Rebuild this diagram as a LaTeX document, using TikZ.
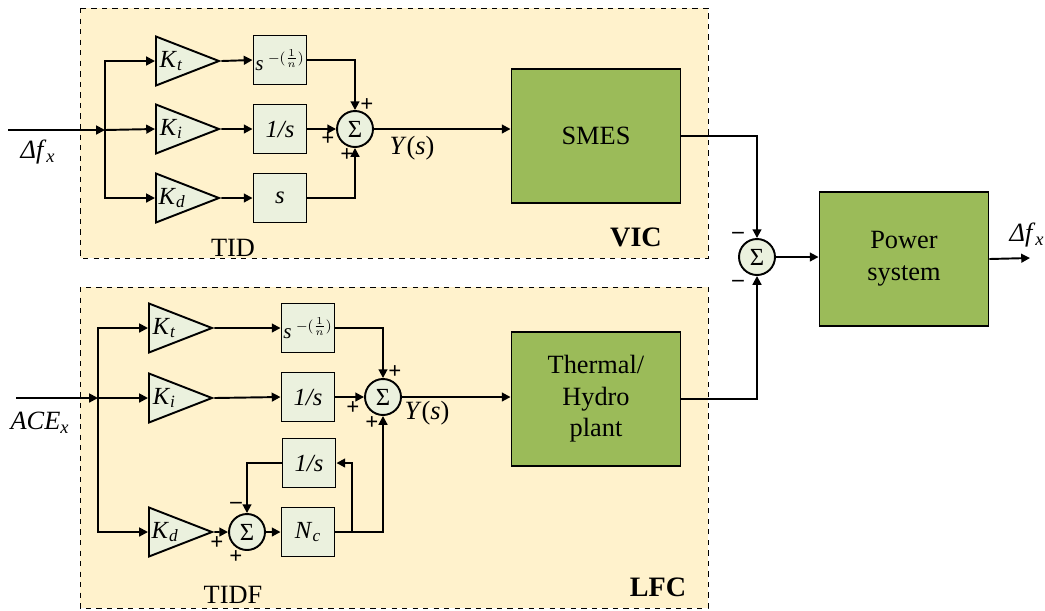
\documentclass[tikz,border=0pt]{standalone}
\usepackage{fontspec}
\setmainfont{Liberation Serif}
\usepackage{amsmath}
\usetikzlibrary{arrows.meta,positioning,shapes.geometric}
\definecolor{panelx}{HTML}{FFF2CC}
\definecolor{blockx}{HTML}{EBF1DE}
\definecolor{plantx}{HTML}{9BBB59}
\newcommand\isub[2]{\textit{#1}\textsubscript{\textit{#2}}}
\newcommand\frpow{\textit{s}\kern2.5pt$^{-(\frac{1}{n})}$}
\tikzset{
  ar/.style={-{Triangle[length=5pt,width=5pt]}},
  gain/.style={draw,fill=blockx,isosceles triangle,isosceles triangle stretches,minimum width=0.98cm,minimum height=1.26cm,inner sep=0pt,anchor=west,font=\fontsize{14}{14}\selectfont},
  blk/.style={draw,fill=blockx,minimum width=1.06cm,minimum height=0.98cm,inner sep=0pt,font=\fontsize{14}{14}\selectfont},
  sumc/.style={draw,fill=blockx,circle,minimum size=0.72cm,inner sep=0pt,font=\fontsize{14}{14}\selectfont},
  plant/.style={draw,fill=plantx,minimum width=3.38cm,minimum height=2.68cm,align=center,font=\fontsize{15}{18}\selectfont},
  panel/.style={draw,dashed,thin,fill=panelx},
  sgn/.style={font=\bfseries\fontsize{13}{13}\selectfont,inner sep=0pt},
  lbl/.style={font=\fontsize{15}{15}\selectfont,inner sep=0pt}
}

\begin{document}
\begin{tikzpicture}[x=0.02cm,y=-0.02cm,line width=1.1pt]
\useasboundingbox (0,0) rectangle (1045,610);
\draw[panel] (80,8) rectangle (708,258);
\draw[panel] (80,287) rectangle (708,608);

% TID controller
\coordinate (in1) at (8,130);
\coordinate (br1) at (105,130);
\node[gain] (kt1) at (155,61) {\isub{K}{t}};
\node[gain] (ki1) at (155,129) {\isub{K}{i}};
\node[gain] (kd1) at (155,198) {\isub{K}{d}};
\node[blk,font=\fontsize{12}{12}\selectfont] (tf1) at (280,60) {\frpow};
\node[blk] (ti1) at (280,129) {\textit{1/s}};
\node[blk] (td1) at (280,198) {\textit{s}};
\node[sumc] (sum1) at (355,129) {Σ};
\node[plant] (smes) at (596,136) {SMES};
\draw[ar] (in1) -- (br1);
\draw[ar] (br1) -- (ki1.west);
\draw[ar] (br1) |- (kt1.west);
\draw[ar] (br1) |- (kd1.west);
\draw[ar] (kt1.east) -- (tf1.west);
\draw[ar] (ki1.east) -- (ti1.west);
\draw[ar] (kd1.east) -- (td1.west);
\draw[ar] (tf1.east) -| (sum1.north);
\draw[ar] (ti1.east) -- (sum1.west);
\draw[ar] (td1.east) -| (sum1.south);
\draw[ar] (sum1.east) -- (sum1.east -| smes.west);
\node[sgn] (s1a) at (367,105) {+};
\node[sgn] (s1b) at (328,139) {+};
\node[sgn] (s1c) at (347,155) {+};
\node[lbl] (y1) at (412,148) {\textit{Y}(\textit{s})};
\node[lbl] (dfin) at (38,152) {\isub{Δf}{x}};
\node[lbl] (tid) at (233,248) {TID};
\node[lbl,font=\bfseries\fontsize{16}{16}\selectfont] (vic) at (636,237) {VIC};

% TIDF controller
\coordinate (in2) at (16,398);
\coordinate (br2) at (98,398);
\node[gain] (kt2) at (148,328) {\isub{K}{t}};
\node[gain] (ki2) at (148,398) {\isub{K}{i}};
\node[gain] (kd2) at (148,532) {\isub{K}{d}};
\node[blk,font=\fontsize{12}{12}\selectfont] (tf2) at (308,328) {\frpow};
\node[blk] (ti2) at (308,397) {\textit{1/s}};
\node[blk] (fb2) at (309,463) {\textit{1/s}};
\node[blk] (nc2) at (308,532) {\isub{N}{c}};
\node[sumc] (sum2) at (247,532) {Σ};
\node[sumc] (sum3) at (383,397) {Σ};
\node[plant] (plant) at (596,399) {Thermal/\\Hydro\\plant};
\coordinate (tap) at (352,532);
\draw[ar] (in2) -- (br2);
\draw[ar] (br2) -- (ki2.west);
\draw[ar] (br2) |- (kt2.west);
\draw[ar] (br2) |- (kd2.west);
\draw[ar] (kt2.east) -- (tf2.west);
\draw[ar] (ki2.east) -- (ti2.west);
\draw[ar] (kd2.east) -- (sum2.west);
\draw[ar] (sum2.east) -- (nc2.west);
\draw[ar] (tf2.east) -| (sum3.north);
\draw[ar] (ti2.east) -- (sum3.west);
\draw[ar] (nc2.east) -| (sum3.south);
\draw[ar] (tap) |- (fb2.east);
\draw[ar] (fb2.west) -| (sum2.north);
\draw[ar] (sum3.east) -- (sum3.east -| plant.west);
\node[sgn] (s2a) at (236,505) {--};
\node[sgn] (s2b) at (217,543) {+};
\node[sgn] (s2c) at (236,557) {+};
\node[sgn] (s3a) at (395,372) {+};
\node[sgn] (s3b) at (353,408) {+};
\node[sgn] (s3c) at (372,423) {+};
\node[lbl] (y2) at (427,413) {\textit{Y}(\textit{s})};
\node[lbl] (ace) at (40,423) {\isub{ACE}{x}};
\node[lbl] (tidf) at (233,595) {TIDF};
\node[lbl,font=\bfseries\fontsize{16}{16}\selectfont] (lfc) at (658,587) {LFC};

% power system
\node[sumc] (sumo) at (757,257) {Σ};
\node[plant] (ps) at (904,259) {Power\\system};
\coordinate (out) at (1030,258);
\draw[ar] (smes.east) -| (sumo.north);
\draw[ar] (plant.east) -| (sumo.south);
\draw[ar] (sumo.east) -- (sumo.east -| ps.west);
\draw[ar] (ps.east) -- (out);
\node[sgn] (m1) at (738,235) {--};
\node[sgn] (m2) at (738,283) {--};
\node[lbl] (dfout) at (1027,235) {\isub{Δf}{x}};
\end{tikzpicture}
\end{document}
